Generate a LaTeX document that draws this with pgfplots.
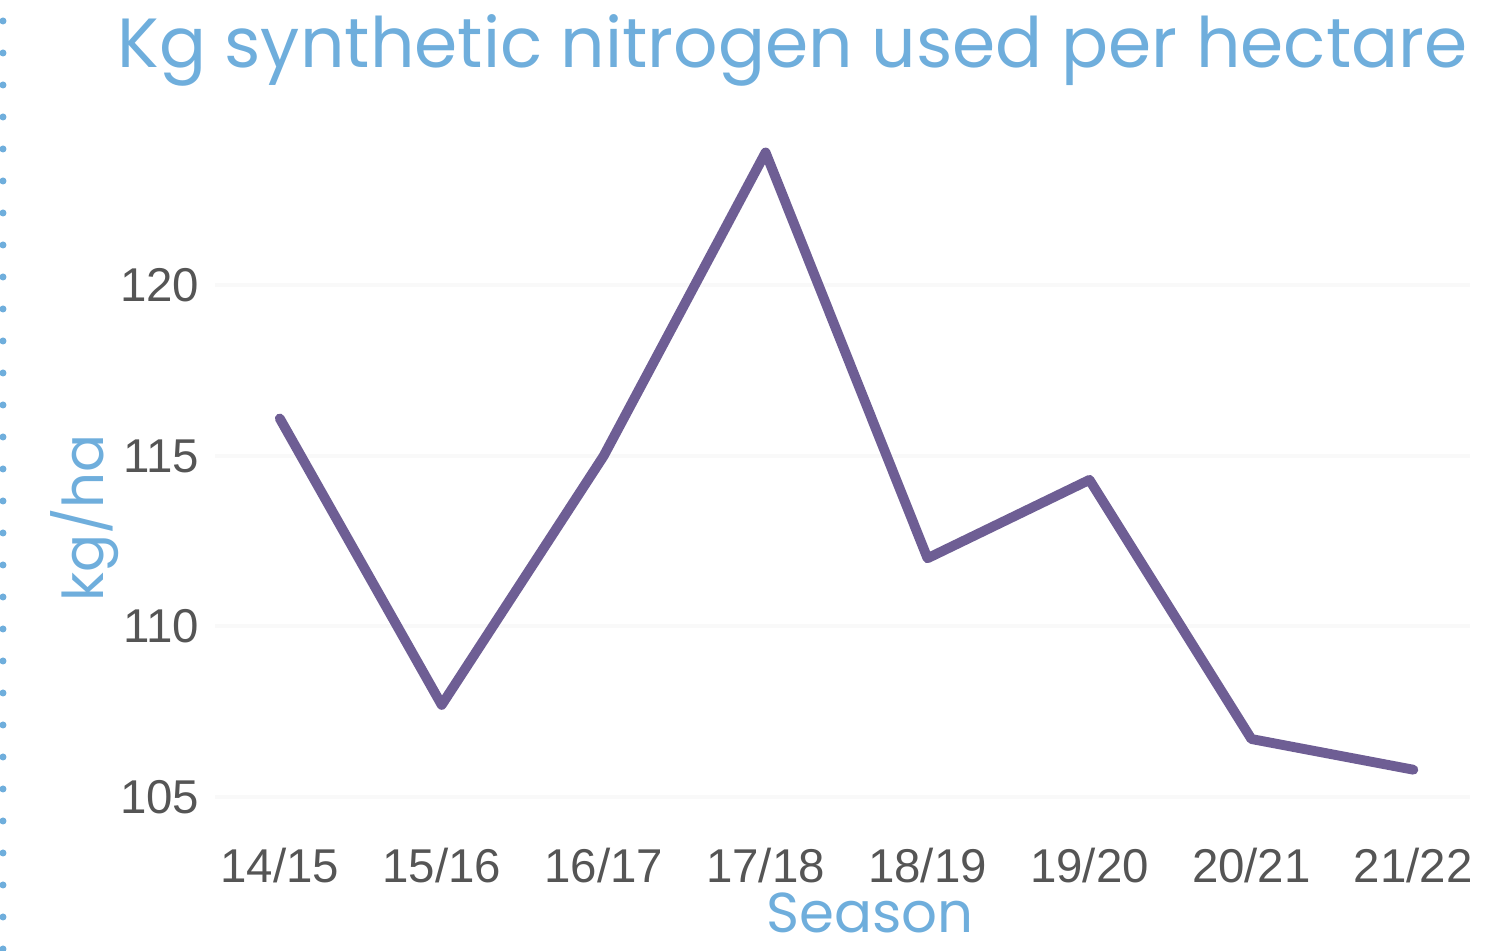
\documentclass[border=0pt]{standalone}
\usepackage{fontspec}
\setmainfont{Liberation Sans}
\newfontfamily\titlefont{Poppins}
\usepackage{pgfplots}
\pgfplotsset{compat=1.18}
\definecolor{titleblue}{HTML}{6FAEDC}
\definecolor{linepurple}{HTML}{6E5E94}
\definecolor{ticktext}{HTML}{555555}
\begin{document}
\begin{tikzpicture}
\path[use as bounding box] (-2.15cm,-1.54cm) rectangle (12.72cm,7.97cm);
\draw[titleblue, line width=0.7mm, line cap=round, dash pattern=on 0pt off 3.2mm] (-2.12cm,-1.52cm) -- (-2.12cm,7.9cm);
\begin{axis}[
  at={(0,0)}, anchor=south west,
  scale only axis,
  width=12.55cm, height=6.67cm,
  xmin=-0.4, xmax=7.35,
  ymin=105, ymax=124.56,
  axis line style={draw=none},
  xtick={0,...,7},
  xticklabels={14/15,15/16,16/17,17/18,18/19,19/20,20/21,21/22},
  ytick={105,110,115,120},
  major tick length=0pt,
  ymajorgrids,
  grid style={gray!5, line width=0.4mm},
  tick label style={font=\fontsize{13.5}{16}\selectfont, text=ticktext},
  /pgf/number format/assume math mode=true,
  yticklabel style={inner sep=0pt, xshift=-1.5mm},
  xticklabel style={inner sep=0pt, anchor=north, yshift=-5.0mm},
]
\addplot[linepurple, line width=2.8pt, line join=round, line cap=round] coordinates {
(0,116.1) (1,107.7) (2,115.0) (3,123.9) (4,112.0) (5,114.3) (6,106.7) (7,105.8)
};
\end{axis}
\node[titleblue, font=\titlefont\fontsize{19.8}{22}\selectfont, anchor=east] at (12.65cm,7.47cm) {Kg synthetic nitrogen used per hectare};
\node[titleblue, font=\titlefont\fontsize{16}{18}\selectfont] at (6.55cm,-1.16cm) {Season};
\node[titleblue, font=\titlefont\fontsize{16}{18}\selectfont, rotate=90] at (-1.30cm,2.79cm) {kg/ha};
\end{tikzpicture}
\end{document}
